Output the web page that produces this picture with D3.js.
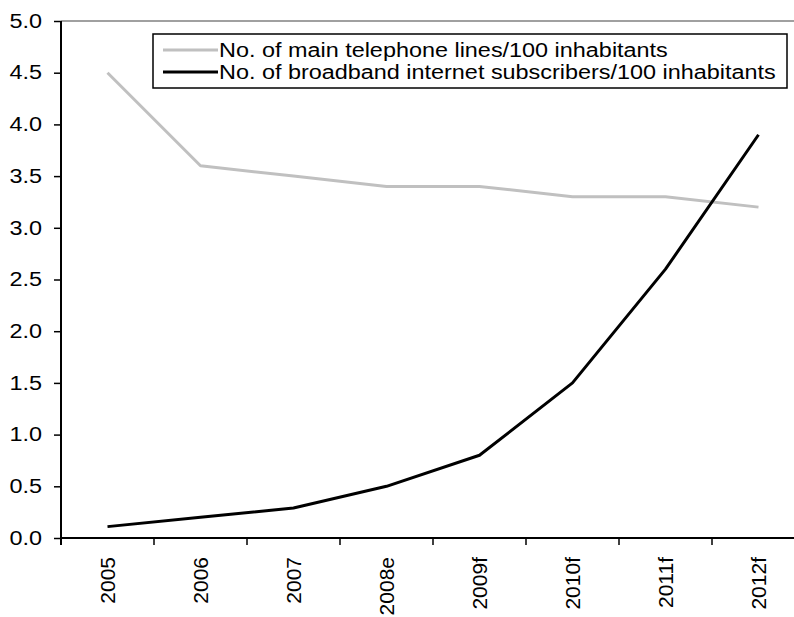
<!DOCTYPE html>
<html><head><meta charset="utf-8">
<script src="https://cdn.jsdelivr.net/npm/d3@7"></script>
<style>body{margin:0;background:#fff;} svg{display:block;} text{font-family:"Liberation Sans",Arial,sans-serif;fill:#000;}</style>
</head><body>
<svg id="c" width="794" height="617"></svg>
<script>
const categories = ["2005","2006","2007","2008e","2009f","2010f","2011f","2012f"];
const telephoneLines = [4.5,3.6,3.5,3.4,3.4,3.3,3.3,3.2];
const broadband = [0.11,0.2,0.29,0.5,0.8,1.5,2.6,3.9];
const yTicks = [0,0.5,1,1.5,2,2.5,3,3.5,4,4.5,5];
const seriesNames = ["No. of main telephone lines/100 inhabitants","No. of broadband internet subscribers/100 inhabitants"];
const seriesColors = ["#c0c0c0","#000000"];

const svg = d3.select("#c");
const pL = 61, pR = 805, pT = 21, pB = 538;
const x = d3.scaleBand().domain(categories).range([pL, pR]).padding(0);
const y = d3.scaleLinear().domain([0,5]).range([pB, pT]);
const stretch = 1.2;
function widen(sel){ sel.each(function(){ const w=this.getComputedTextLength(); d3.select(this).attr("textLength", w*stretch).attr("lengthAdjust","spacingAndGlyphs"); }); }

// top border of plot area
svg.append("line").attr("x1",pL).attr("x2",794).attr("y1",pT).attr("y2",pT).attr("stroke","#808080").attr("stroke-width",1.5);

// y axis
const yAxis = svg.append("g").attr("transform",`translate(${pL},0)`)
  .call(d3.axisLeft(y).tickValues(yTicks).tickFormat(d3.format(".1f")).tickSize(7).tickPadding(12).tickSizeOuter(0));
yAxis.select(".domain").attr("stroke","#000").attr("stroke-width",2).attr("d",`M0,${pT}V${pB+7}`);
yAxis.selectAll(".tick line").attr("stroke","#000").attr("stroke-width",1.5);
yAxis.selectAll(".tick text").attr("font-size",19.5).attr("font-family",'"Liberation Sans",Arial,sans-serif').attr("fill","#000").call(widen);

// x axis with ticks at category boundaries
const xg = svg.append("g").attr("transform",`translate(0,${pB})`);
xg.append("line").attr("x1",pL).attr("x2",794).attr("y1",0).attr("y2",0).attr("stroke","#000").attr("stroke-width",2);
xg.selectAll("line.tk").data(categories.slice(1)).enter().append("line").attr("class","tk")
  .attr("x1",d=>x(d)).attr("x2",d=>x(d)).attr("y1",0).attr("y2",7).attr("stroke","#000").attr("stroke-width",1.5);
xg.selectAll("text").data(categories).enter().append("text")
  .attr("transform",d=>`translate(${x(d)+x.bandwidth()/2},19) rotate(-90)`)
  .attr("text-anchor","end").attr("dy","0.36em").attr("font-size",21).text(d=>d);

// lines
const line = d3.line().x((d,i)=>x(categories[i])+x.bandwidth()/2).y(d=>y(d));
[telephoneLines, broadband].forEach((s,k)=>{
  svg.append("path").datum(s).attr("d",line).attr("fill","none").attr("stroke",seriesColors[k]).attr("stroke-width",3).attr("stroke-linejoin","round");
});

// legend
const lg = svg.append("g");
lg.append("rect").attr("x",153).attr("y",34).attr("width",634).attr("height",54).attr("fill","#fff").attr("stroke","#000").attr("stroke-width",1.5);
seriesNames.forEach((n,k)=>{
  const cy = 50 + k*22;
  lg.append("line").attr("x1",163).attr("x2",218).attr("y1",cy).attr("y2",cy).attr("stroke",seriesColors[k]).attr("stroke-width",3);
  lg.append("text").attr("x",219).attr("y",cy).attr("dy","0.36em").attr("font-size",19.5).text(n).call(widen);
});
</script>
</body></html>
